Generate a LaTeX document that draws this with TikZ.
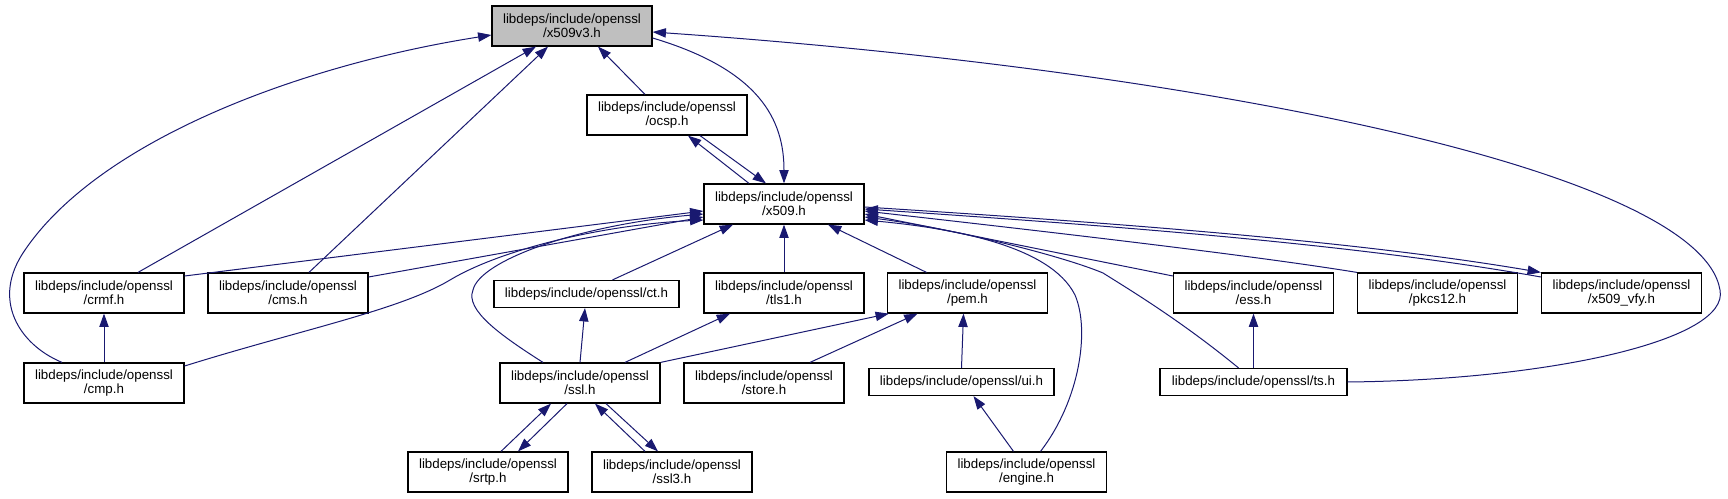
\documentclass[tikz,border=0pt]{standalone}
\usepackage{fontspec}
\setmainfont{Liberation Sans}
\usetikzlibrary{arrows.meta,calc}
\definecolor{edgeblue}{HTML}{191970}
\definecolor{nodegray}{HTML}{BFBFBF}
\begin{document}
\begin{tikzpicture}[x=0.75pt,y=-0.75pt,
  box/.style={draw=black, line width=0.9pt, rectangle, inner sep=0pt, fill=white,
    minimum width=120pt, minimum height=30pt, align=center,
    font=\fontsize{10pt}{10.2pt}\selectfont},
  onebox/.style={box, minimum height=20.25pt},
  dep/.style={draw=edgeblue, line width=0.75pt, -{Triangle[length=10pt,width=7pt]}}]
\useasboundingbox (0,0) rectangle (1728,499);
% nodes
\node[box, fill=nodegray] (x509v3) at (572,26) {libdeps/include/openssl\\/x509v3.h};
\node[box] (ocsp) at (667,115) {libdeps/include/openssl\\/ocsp.h};
\node[box] (x509) at (784,204) {libdeps/include/openssl\\/x509.h};
\node[box] (crmf) at (104,293) {libdeps/include/openssl\\/crmf.h};
\node[box] (cms) at (288,293) {libdeps/include/openssl\\/cms.h};
\node[onebox, minimum width=138.75pt] (ct) at (586.5,294) {libdeps/include/openssl/ct.h};
\node[box] (tls1) at (784,293) {libdeps/include/openssl\\/tls1.h};
\node[box] (pem) at (967.5,293) {libdeps/include/openssl\\/pem.h};
\node[box] (ess) at (1253.5,293) {libdeps/include/openssl\\/ess.h};
\node[box] (pkcs12) at (1437.5,293) {libdeps/include/openssl\\/pkcs12.h};
\node[box] (x509vfy) at (1621.5,293) {libdeps/include/openssl\\/x509\_vfy.h};
\node[box] (cmp) at (104,383) {libdeps/include/openssl\\/cmp.h};
\node[box] (ssl) at (580,383) {libdeps/include/openssl\\/ssl.h};
\node[box] (store) at (764,383) {libdeps/include/openssl\\/store.h};
\node[onebox, minimum width=138.75pt] (ui) at (961.5,382) {libdeps/include/openssl/ui.h};
\node[onebox, minimum width=140.25pt] (ts) at (1253.5,382) {libdeps/include/openssl/ts.h};
\node[box] (srtp) at (488,472) {libdeps/include/openssl\\/srtp.h};
\node[box] (ssl3) at (672,472) {libdeps/include/openssl\\/ssl3.h};
\node[box] (engine) at (1026.5,472) {libdeps/include/openssl\\/engine.h};
% edges into x509v3
\draw[dep] ($(cmp.north)+(-42,0)$) .. controls (20,345) and (-10,300) .. (25,250) .. controls (100,140) and (300,65) .. ($(x509v3.west)+(0,9)$);
\draw[dep] ($(crmf.north)+(34,0)$) -- ($(x509v3.south)+(-36,0)$);
\draw[dep] ($(cms.north)+(21,0)$) -- ($(x509v3.south)+(-24,0)$);
\draw[dep] ($(ocsp.north)+(-22,0)$) -- ($(x509v3.south)+(26,0)$);
\draw[dep] ($(x509v3.east)+(0,12)$) .. controls (760,70) and (784,120) .. (x509.north);
\draw[dep] ($(x509.north)+(-35,0)$) -- ($(ocsp.south)+(21,0)$);
\draw[dep] ($(ocsp.south)+(33,0)$) -- ($(x509.north)+(-18,0)$);
\draw[dep] (ts.east) .. controls (1550,380) and (1730,340) .. (1720,290) .. controls (1700,170) and (1200,70) .. ($(x509v3.east)+(0,6)$);
% edges into x509 (left)
\draw[dep] ($(crmf.east)+(0,-17)$) -- ($(x509.west)+(0,7)$);
\draw[dep] ($(cms.east)+(0,-16)$) -- ($(x509.west)+(0,13)$);
\draw[dep] ($(cmp.east)+(0,-17)$) .. controls (300,330) and (400,310) .. (450,280) .. controls (500,250) and (600,225) .. ($(x509.west)+(0,16)$);
\draw[dep] ($(ssl.north)+(-37,0)$) .. controls (500,335) and (465,310) .. (473,290) .. controls (480,260) and (580,225) .. ($(x509.west)+(0,10)$);
% edges into x509 (bottom)
\draw[dep] ($(ct.north)+(26,0)$) -- ($(x509.south)+(-51,0)$);
\draw[dep] (tls1.north) -- (x509.south);
\draw[dep] ($(pem.north)+(-41,0)$) -- ($(x509.south)+(44,0)$);
% edges into x509 (right)
\draw[dep] ($(engine.north)+(14,0)$) .. controls (1080,400) and (1090,330) .. (1075,295) .. controls (1050,245) and (950,228) .. ($(x509.east)+(0,16)$);
\draw[dep] ($(ts.north)+(-15,0)$) .. controls (1180,320) and (1130,290) .. (1103,273) .. controls (1060,255) and (950,228) .. ($(x509.east)+(0,13)$);
\draw[dep] ($(ess.west)+(0,-17)$) -- ($(x509.east)+(0,10)$);
\draw[dep] (pkcs12.north west) .. controls (1250,255) and (1050,232) .. ($(x509.east)+(0,7)$);
\draw[dep] ($(x509.east)+(0,3)$) .. controls (1100,222) and (1350,240) .. (x509vfy.north west);
\draw[dep] ($(x509vfy.west)+(0,-16)$) .. controls (1350,243) and (1100,225) .. ($(x509.east)+(0,5)$);
% other edges
\draw[dep] (cmp.north) -- (crmf.south);
\draw[dep] (ssl.north) -- ($(ct.south)+(-1.5,0)$);
\draw[dep] ($(ssl.north)+(45,0)$) -- ($(tls1.south)+(-54,0)$);
\draw[dep] (ssl.north east) -- ($(pem.south west)+(2,0)$);
\draw[dep] ($(store.north)+(46,0)$) -- ($(pem.south)+(-50,0)$);
\draw[dep] (ui.north) -- ($(pem.south)+(-4,0)$);
\draw[dep] ($(engine.north)+(-13,0)$) -- ($(ui.south)+(12,0)$);
\draw[dep] (ts.north) -- (ess.south);
\draw[dep] ($(srtp.north)+(13,0)$) -- ($(ssl.south)+(-29,0)$);
\draw[dep] ($(ssl.south)+(-13,0)$) -- ($(srtp.north)+(30,0)$);
\draw[dep] ($(ssl3.north)+(-27,0)$) -- ($(ssl.south)+(15,0)$);
\draw[dep] ($(ssl.south)+(26,0)$) -- ($(ssl3.north)+(-14,0)$);
\end{tikzpicture}
\end{document}
